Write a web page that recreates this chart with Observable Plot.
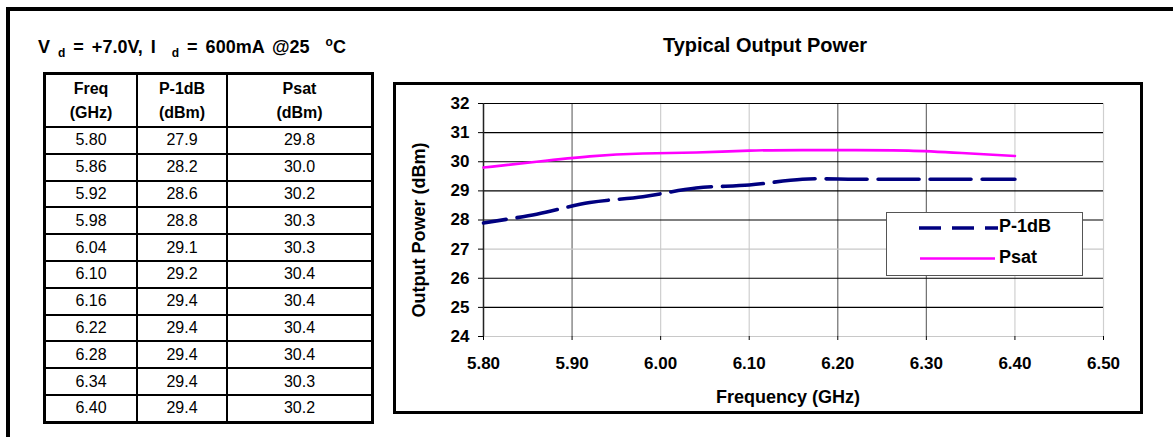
<!DOCTYPE html>
<html>
<head>
<meta charset="utf-8">
<script src="https://cdn.jsdelivr.net/npm/d3@7"></script>
<script src="https://cdn.jsdelivr.net/npm/@observablehq/plot@0.6"></script>
<style>
  html, body { margin: 0; padding: 0; background: #fff; }
  body { width: 1173px; height: 437px; position: relative; overflow: hidden;
         font-family: Arial, "Liberation Sans", sans-serif; color: #000; }
  .frame { position: absolute; left: 6px; top: 7px; width: 1300px; height: 600px;
           border-left: 4px solid #000; border-top: 4px solid #000; }
  .cond { position: absolute; left: 38px; top: 35px; font-weight: bold; font-size: 18px; white-space: nowrap; word-spacing: 3px; }
  .cond sub { font-size: 12px; vertical-align: -4px; }
  .cond sup { font-size: 12px; vertical-align: 7px; }
  table { position: absolute; left: 43px; top: 72px; border-collapse: collapse;
          border: 3px solid #000; font-size: 16px; }
  td, th { border: 2px solid #000; text-align: center; padding: 0; }
  th { font-weight: bold; line-height: 24px; height: 51px; }
  td { height: 24.8px; line-height: 20px; }
  .title { position: absolute; left: 565px; width: 400px; top: 34px; text-align: center;
           font-weight: bold; font-size: 20px; }
  .box { position: absolute; left: 393px; top: 82px; width: 750px; height: 332px; box-sizing: border-box;
         border: 3px solid #000; border-bottom-width: 3.5px; }
  #chart { position: absolute; left: 393px; top: 82px; }
  .ylab { position: absolute; left: 419px; top: 230px; transform: translate(-50%, -50%) rotate(-90deg);
          font-weight: bold; font-size: 18px; white-space: nowrap; }
  .xlab { position: absolute; left: 788px; top: 397px; transform: translate(-50%, -50%);
          font-weight: bold; font-size: 18px; white-space: nowrap; }
  .legend { position: absolute; left: 886px; top: 212px; width: 197px; height: 64px; box-sizing: border-box;
            border: 1.5px solid #555; background: #fff; }
  .legend svg { position: absolute; left: 0; top: 0; }
  .legend .lt { position: absolute; left: 112px; font-weight: bold; font-size: 18px; line-height: 20px; }
</style>
</head>
<body>
<div class="frame"></div>
<div class="cond">V <sub>d</sub> = +7.0V, I &nbsp;<sub>d</sub> = 600mA @25 &nbsp;<sup>o</sup>C</div>
<table id="tbl"></table>
<div class="title">Typical Output Power</div>
<div class="box"></div>
<div id="chart"></div>
<div class="ylab">Output Power (dBm)</div>
<div class="xlab">Frequency (GHz)</div>
<div class="legend">
  <svg width="197" height="64">
    <line x1="32" y1="15" x2="111" y2="15" stroke="#000080" stroke-width="3.5" stroke-dasharray="22,11"/>
    <line x1="33" y1="45.5" x2="108" y2="45.5" stroke="#ff00ff" stroke-width="2.5"/>
  </svg>
  <div class="lt" style="top:3px">P-1dB</div>
  <div class="lt" style="top:34px">Psat</div>
</div>
<script>
// ---- data ----
const freq = [5.80, 5.86, 5.92, 5.98, 6.04, 6.10, 6.16, 6.22, 6.28, 6.34, 6.40];
const p1dB = [27.9, 28.2, 28.6, 28.8, 29.1, 29.2, 29.4, 29.4, 29.4, 29.4, 29.4];
const psat = [29.8, 30.0, 30.2, 30.3, 30.3, 30.4, 30.4, 30.4, 30.4, 30.3, 30.2];
const xTicks = [5.8, 5.9, 6.0, 6.1, 6.2, 6.3, 6.4, 6.5];
const yTicks = [24, 25, 26, 27, 28, 29, 30, 31, 32];
const tableHeader = [["Freq", "(GHz)"], ["P-1dB", "(dBm)"], ["Psat", "(dBm)"]];

// ---- table ----
const tbl = document.getElementById("tbl");
const colW = [90, 88, 143];
let html = "<tr>" + tableHeader.map((h, i) => `<th style="width:${colW[i]}px">${h[0]}<br>${h[1]}</th>`).join("") + "</tr>";
freq.forEach((f, i) => {
  html += `<tr><td>${f.toFixed(2)}</td><td>${p1dB[i].toFixed(1)}</td><td>${psat[i].toFixed(1)}</td></tr>`;
});
tbl.innerHTML = html;

// ---- chart ----
const rows1 = freq.map((f, i) => ({f, v: p1dB[i]}));
const rows2 = freq.map((f, i) => ({f, v: psat[i]}));
const darkX = new Set([5.9, 6.2, 6.3]);
const lightY = new Set([24, 27]);

const chart = Plot.plot({
  width: 750, height: 332,
  marginLeft: 90, marginTop: 21, marginRight: 40, marginBottom: 78,
  style: {fontFamily: "Arial, 'Liberation Sans', sans-serif", color: "#000", background: "transparent", overflow: "visible"},
  x: {domain: [5.8, 6.5]},
  y: {domain: [24, 32]},
  marks: [
    Plot.ruleX(xTicks, {x: d => d, stroke: d => darkX.has(d) ? "#6e6e6e" : "#cfcfcf", strokeWidth: 1.2}),
    Plot.ruleY(yTicks, {y: d => d, stroke: d => lightY.has(d) ? "#c8c8c8" : "#000", strokeWidth: 1.2}),
    Plot.ruleX([5.8], {stroke: "#222", strokeWidth: 1.5}),
    Plot.axisY({ticks: yTicks, tickSize: 5, tickPadding: 9, tickFormat: d => String(d), label: null,
                fontSize: 17, fontWeight: "bold", stroke: "#000"}),
    Plot.axisX({ticks: xTicks, tickSize: 4, tickPadding: 16, tickFormat: d => d.toFixed(2), label: null,
                fontSize: 17, fontWeight: "bold"}),
    Plot.line(rows2, {x: "f", y: "v", stroke: "#ff00ff", strokeWidth: 2.6, curve: "basis"}),
    Plot.line(rows1, {x: "f", y: "v", stroke: "#000080", strokeWidth: 3.6, curve: "catmull-rom",
                      strokeDasharray: "41,11", strokeDashoffset: 18})
  ]
});
document.getElementById("chart").appendChild(chart);
</script>
</body>
</html>
